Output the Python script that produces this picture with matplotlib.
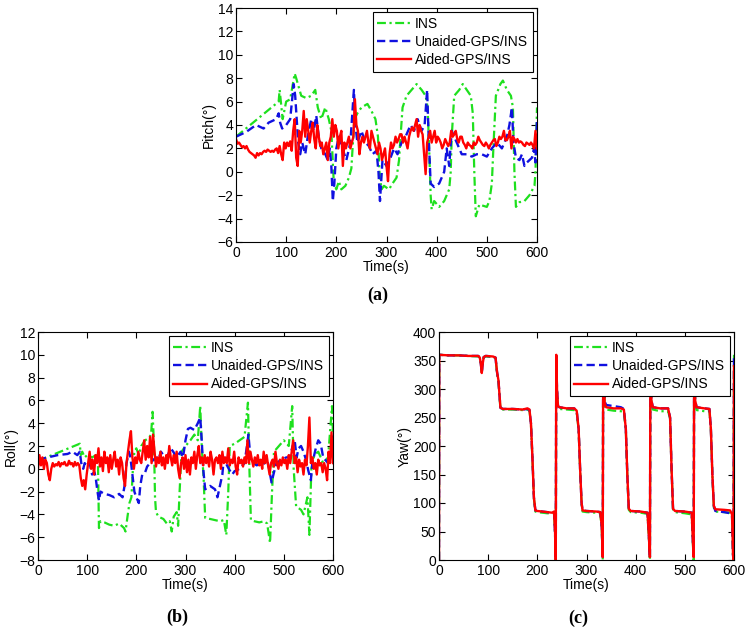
import numpy as np
import matplotlib
matplotlib.use('Agg')
import matplotlib.pyplot as plt

plt.rcParams['font.family'] = ['Liberation Sans', 'DejaVu Sans']

# ---- pitch data ----
t_ins_p = [0, 85, 87, 93, 100, 108, 117, 120, 130, 140, 150, 158, 163, 170, 178, 185, 190, 195, 200, 205,
           210, 218, 225, 230, 233, 236, 242, 250, 262, 270, 278, 283, 286, 290, 295, 305, 312, 320, 325, 328,
           332, 340, 350, 360, 370, 378, 382, 385, 388, 390, 395, 405, 415, 425, 428, 430, 435, 445, 452, 460,
           468, 472, 475, 478, 485, 500, 505, 510, 513, 518, 527, 532, 540, 548, 552, 555, 558, 565, 575, 585,
           595, 597, 600]
ins_p = [3.0, 6.0, 7.0, 4.5, 6.0, 6.2, 8.4, 8.0, 6.5, 6.3, 6.5, 7.0, 5.5, 4.5, 5.5, 4.5, 3.5, -1.0, -1.5, -0.8,
         -1.5, -1.2, -0.5, 0.3, 2.5, 4.5, 5.0, 5.5, 5.8, 5.2, 4.5, 3.0, 0.0, -1.5, -1.2, -1.5, -1.0, -0.5, 1.0, 3.0,
         5.5, 6.5, 7.0, 7.5, 7.0, 6.5, 5.5, 2.0, -2.0, -3.2, -2.5, -3.0, -2.5, -1.5, 0.0, 3.0, 6.5, 7.0, 7.5, 7.0,
         6.5, 5.0, 0.0, -3.8, -2.8, -3.0, -2.5, -1.0, 2.0, 6.5, 7.5, 7.8, 7.0, 6.5, 5.5, 0.0, -3.0, -2.6, -2.5, -2.0,
         -1.2, 0.0, 5.5]

t_un_p = [0, 20, 40, 55, 65, 80, 85, 88, 92, 100, 108, 115, 118, 121, 124, 128, 132, 138, 143, 150,
          155, 160, 165, 170, 178, 183, 187, 190, 193, 196, 200, 205, 212, 220, 228, 235, 238, 242, 250, 258,
          265, 272, 280, 284, 287, 292, 300, 308, 315, 322, 330, 338, 348, 355, 362, 370, 376, 381, 384, 388,
          395, 405, 410, 415, 420, 425, 430, 440, 450, 460, 470, 480, 490, 500, 510, 520, 530, 540, 545, 550,
          553, 558, 565, 570, 575, 580, 590, 594, 597, 600]
un_p = [3.0, 3.4, 4.0, 3.7, 4.2, 4.5, 5.0, 4.2, 3.7, 4.0, 4.5, 7.5, 6.5, 4.5, 2.5, 1.5, 2.5, 1.5, 3.0, 4.5,
        3.5, 4.8, 3.0, 2.0, 1.5, 1.0, 2.0, 0.5, -2.5, -1.0, 2.0, 3.0, 2.0, 1.0, 2.5, 7.0, 4.0, 2.5, 3.5, 2.5,
        2.2, 1.5, 1.8, 0.0, -2.5, 1.0, 0.5, 1.2, 2.0, 1.5, 2.5, 3.0, 4.0, 3.5, 4.5, 3.5, 4.0, 7.0, 3.0, -1.0,
        -1.3, -1.0, -0.5, 0.0, 2.0, 0.5, 3.5, 2.5, 1.5, 1.5, 1.3, 1.5, 1.5, 1.3, 2.0, 2.5, 2.0, 3.0, 4.0, 5.5,
        2.5, 1.2, 1.0, 1.5, 0.5, 0.8, 1.2, 2.0, 0.8, 4.5]

t_grid = np.arange(0, 601, 3)  # sample times of the aided solution
aid_p = [2.8, 2.4, 2.5, 2.3, 2.1, 2.2, 2.0, 2.2, 1.9, 1.7,
         1.6, 1.5, 1.4, 1.2, 1.6, 1.4, 1.6, 1.5, 1.7, 1.8,
         1.7, 1.9, 1.8, 1.7, 1.8, 1.7, 1.9, 2.0, 1.6, 2.2,
         1.5, 1.0, 2.5, 2.0, 2.5, 2.2, 2.6, 1.8, 3.5, 4.5,
         1.2, 0.5, 3.5, 2.5, 3.5, 5.2, 3.0, 4.5, 3.5, 2.5,
         3.5, 4.2, 2.8, 2.0, 4.0, 3.0, 2.2, 2.5, 1.5, 2.0,
         2.5, 1.0, 2.5, 3.0, 4.5, 3.0, 4.0, 3.5, 2.0, 3.0,
         3.5, 0.5, 2.5, 2.0, 2.5, 3.0, 2.0, 2.5, 3.0, 6.2,
         4.0, 3.5, 1.5, 2.5, 3.0, 2.5, 3.0, 3.5, 2.5, 2.0,
         3.5, 3.0, 2.5, 2.0, 1.5, 2.5, 2.0, 1.0, 1.5, 2.0,
         0.5, -0.8, 1.5, 2.5, 2.0, 2.3, 3.0, 2.5, 2.8, 3.2,
         3.2, 2.5, 3.0, 2.5, 2.0, 3.0, 3.5, 3.8, 3.5, 4.0,
         4.5, 3.0, 4.0, 3.5, 3.2, 1.5, -0.2, 2.5, 3.0, 3.5,
         2.5, 3.0, 3.5, 2.5, 3.0, 2.8, 2.5, 2.0, 2.3, 2.8,
         2.5, 2.2, 2.5, 3.5, 3.0, 3.2, 3.5, 2.8, 2.5, 3.0,
         3.0, 2.5, 2.3, 2.0, 2.5, 2.3, 2.2, 2.0, 2.5, 2.3,
         2.5, 3.0, 2.7, 2.5, 2.3, 2.2, 2.5, 2.3, 2.0, 2.3,
         2.5, 2.7, 2.8, 2.2, 2.5, 3.0, 2.8, 3.0, 3.5, 2.7,
         2.7, 3.0, 3.5, 2.0, 3.0, 2.8, 2.5, 2.8, 2.5, 2.6,
         2.5, 2.3, 2.2, 2.5, 2.4, 2.3, 2.5, 2.3, 2.0, 3.5,
         2.0]

# ---- roll data ----
t_ins_r = [0, 85, 87, 90, 95, 100, 110, 118, 122, 124, 127, 135, 145, 155, 165, 175, 178, 182, 186, 190,
           193, 196, 200, 205, 210, 218, 225, 230, 233, 236, 238, 240, 245, 255, 262, 268, 272, 276, 282, 285,
           288, 292, 300, 310, 318, 325, 330, 333, 337, 340, 350, 360, 370, 378, 383, 387, 390, 400, 410, 420,
           427, 430, 433, 440, 450, 460, 466, 472, 476, 480, 490, 500, 510, 517, 520, 525, 535, 540, 548, 552,
           556, 562, 570, 580, 590, 598, 600]
ins_r = [0.7, 2.2, 1.2, 1.5, 1.0, 1.2, 1.0, 1.2, 0.5, -5.2, -4.6, -4.7, -4.9, -5.0, -4.8, -5.2, -5.5, -4.2, -3.0, -2.5,
         0.0, 1.5, 1.8, 1.2, 2.0, 2.5, 2.7, 3.0, 5.0, 2.0, -2.5, -3.8, -4.2, -4.4, -4.8, -4.6, -5.5, -4.2, -3.8, -5.0,
         -2.0, 1.5, 2.0, 2.5, 3.0, 2.5, 5.5, 2.0, -1.0, -4.3, -4.4, -4.5, -4.6, -4.5, -5.8, -2.0, 2.0, 2.2, 2.5, 2.8,
         5.8, 0.0, -4.5, -4.6, -4.7, -4.6, -4.8, -6.5, -2.0, 1.5, 2.0, 2.5, 2.0, 5.5, 0.0, -3.3, -3.6, -4.0, -2.5, -5.8,
         0.0, 1.2, 1.5, 0.5, 1.0, 5.5, 3.0]

t_un_r = [0, 20, 40, 60, 70, 80, 85, 88, 92, 95, 100, 105, 110, 115, 118, 121, 124, 127, 135, 145,
          155, 165, 172, 176, 180, 185, 188, 192, 196, 200, 205, 208, 212, 218, 222, 228, 235, 240, 245, 250,
          255, 262, 270, 275, 282, 290, 295, 300, 305, 310, 318, 325, 330, 333, 336, 340, 350, 360, 365, 370,
          375, 378, 382, 388, 395, 400, 410, 420, 425, 428, 432, 438, 445, 450, 458, 465, 470, 475, 480, 485,
          495, 505, 512, 518, 522, 526, 530, 535, 540, 545, 550, 555, 558, 565, 570, 575, 580, 590, 596, 600]
un_r = [0.8, 1.0, 1.2, 1.3, 1.5, 1.2, 1.5, 0.5, 0.0, 0.5, 0.2, 0.5, -0.5, -0.3, -1.0, -2.0, -2.8, -2.0, -2.2, -2.3,
        -2.5, -2.2, -2.5, -1.5, 0.5, 1.5, 1.0, -0.5, -2.0, -2.5, -3.0, -1.5, -0.5, -0.3, 0.2, 0.5, 0.8, 1.0, 0.8, 1.5,
        1.2, 1.0, 1.8, 1.5, 1.0, 1.5, 1.0, 2.5, 3.5, 3.6, 3.4, 4.0, 4.5, 2.5, 0.0, -1.8, -1.5, -1.8, -2.5, -1.5,
        -0.5, 1.0, 0.5, 0.0, -0.5, -0.2, 0.0, 0.5, 2.0, 3.0, 1.0, 0.5, 0.3, 0.5, 0.3, 1.0, 0.0, -1.2, -0.3, 0.5,
        0.8, 1.0, 1.0, 2.0, 2.5, 1.0, 1.8, 2.0, 1.5, 0.8, -0.2, -1.0, 0.5, 1.8, 2.5, 2.2, 1.0, 0.5, 1.0, 3.0]

aid_r = [0.0, 1.2, 0.3, 1.0, 0.0, 0.8, 0.5, -0.5, -1.0, 0.0,
         0.5, 0.2, 0.4, 0.3, 0.6, 0.2, 0.5, 0.4, 0.6, 0.3,
         0.3, 0.7, 0.4, 0.5, 0.2, 0.6, 0.3, 0.5, 0.3, -0.8,
         -1.5, -1.0, -1.8, -0.5, 0.5, 1.5, 0.0, 0.8, -0.5, 1.2,
         0.5, 1.8, 0.2, 1.0, -0.2, 1.5, 0.5, 1.0, -0.3, 1.2,
         0.0, 0.8, 1.5, 0.2, 0.8, -0.5, 1.0, 0.5, -0.8, -1.5,
         0.5, 1.5, 2.5, 3.3, 1.0, 0.0, 1.0, 0.5, 1.5, 0.8,
         0.5, 1.5, 2.5, 0.8, 2.0, 1.0, 2.8, 0.5, 3.0, 1.5,
         0.2, 1.0, 0.5, 1.5, 0.3, 1.0, 0.0, 1.2, 0.5, 2.0,
         1.0, 0.3, 1.2, 0.5, 1.5, 0.0, -0.8, 0.5, 1.0, 0.0,
         1.2, -0.3, 0.8, -0.5, 1.0, 0.5, 1.5, 0.0, 1.2, 2.0,
         0.5, 1.0, 0.3, 1.2, 0.5, 1.0, 0.2, 1.5, 0.8, -0.5,
         0.8, 1.0, 0.5, 1.2, 0.0, 1.5, 0.5, 1.0, 0.5, 1.8,
         0.3, 0.8, 0.5, 1.5, 0.2, -0.5, 1.0, 0.5, 0.8, 0.2,
         1.0, 0.5, 2.5, 0.5, 1.5, 0.8, 0.2, 1.0, 0.5, 1.2,
         0.3, 0.8, 0.0, 1.5, 0.5, 1.2, 0.3, -0.5, 0.5, 0.8,
         0.2, 1.5, 0.5, 0.0, 0.8, 0.3, 1.0, 0.5, 0.8, 0.0,
         1.2, 0.5, 1.5, 2.5, 0.5, 1.0, -0.3, 0.8, 0.2, 0.5,
         -0.5, 0.8, 0.3, 2.0, 4.5, 0.5, 1.0, 0.0, 0.5, -0.5,
         0.8, 0.3, 0.5, -0.3, 0.5, 0.0, -1.0, 1.5, 0.5, 3.2,
         0.5]

# ---- yaw data ----
t_yaw = [0, 0.5, 20, 40, 60, 80, 83, 85, 87, 89, 91, 95, 110, 115, 118, 121, 123, 125, 130, 150,
         170, 180, 184, 187, 190, 193, 196, 200, 220, 230, 234, 236, 237.5, 238.5, 240, 242, 245, 260, 275, 280,
         284, 287, 290, 292, 300, 320, 328, 331, 333, 334, 337, 340, 355, 370, 376, 380, 383, 386, 390, 410,
         424, 427, 429, 430, 432, 435, 450, 466, 470, 473, 476, 480, 500, 514, 516, 518, 519, 521, 524, 540,
         550, 553, 556, 559, 562, 580, 592, 596, 598, 599, 600]
ins_y = [0, 360, 359, 359, 358, 357, 354, 344, 330, 346, 356, 357, 356, 354, 328, 312, 288, 265, 264, 264,
         263, 264, 262, 238, 178, 108, 85, 84, 82, 82, 83, 45, 0, 360, 298, 268, 265, 264, 263, 260,
         228, 158, 98, 85, 84, 83, 82, 55, 0, 360, 270, 264, 262, 261, 260, 228, 148, 88, 84, 83,
         81, 35, 0, 360, 275, 264, 261, 261, 248, 158, 88, 84, 82, 80, 35, 0, 360, 275, 263, 261,
         262, 228, 148, 92, 85, 84, 83, 78, 5, 0, 360]
un_y = [0, 360, 359, 359, 358, 358, 355, 345, 329, 345, 356, 358, 357, 355, 330, 314, 290, 267, 265, 265,
        264, 265, 263, 240, 180, 110, 87, 86, 84, 83, 84, 48, 0, 358, 300, 270, 268, 266, 266, 262,
        230, 160, 100, 87, 86, 85, 84, 58, 3, 360, 278, 272, 270, 268, 265, 230, 150, 90, 86, 85,
        83, 40, 3, 360, 280, 268, 266, 266, 250, 160, 90, 86, 85, 83, 40, 3, 360, 280, 268, 266,
        265, 230, 150, 95, 86, 84, 82, 78, 8, 0, 360]
aid_y = [0, 360, 359, 359, 358, 358, 355, 345, 328, 345, 356, 358, 357, 355, 330, 315, 290, 267, 265, 265,
         264, 266, 264, 240, 180, 110, 87, 86, 84, 83, 85, 50, 0, 360, 300, 270, 268, 266, 266, 262,
         230, 160, 100, 87, 86, 85, 84, 60, 5, 360, 275, 268, 266, 266, 264, 230, 150, 90, 86, 85,
         83, 40, 5, 360, 280, 268, 266, 266, 250, 160, 90, 86, 85, 83, 40, 5, 360, 280, 268, 266,
         265, 230, 150, 95, 89, 88, 87, 80, 10, 0, 340]

labels = ['INS', 'Unaided-GPS/INS', 'Aided-GPS/INS']
green = '#1ee01e'
blue = '#1010e0'
red = '#ff0000'

W, H = 747, 628
fig = plt.figure(figsize=(W / 100, H / 100), dpi=100)


def px_axes(x0, y0, x1, y1):
    return fig.add_axes([x0 / W, 1 - y1 / H, (x1 - x0) / W, (y1 - y0) / H])


def draw(ax, series, ylim, yticks, ylabel):
    (t1, v1), (t2, v2), (t3, v3) = series
    ax.plot(t1, v1, color=green, lw=1.6, ls=(0, (4, 1.6, 1, 1.6)), label=labels[0])
    ax.plot(t2, v2, color=blue, lw=1.7, ls=(0, (3.5, 1.8)), label=labels[1])
    ax.plot(t3, v3, color=red, lw=1.7, label=labels[2])
    ax.set_xlim(0, 600)
    ax.set_ylim(*ylim)
    ax.set_xticks(np.arange(0, 601, 100))
    ax.set_yticks(yticks)
    ax.tick_params(direction='in', top=True, right=True, labelsize=10, length=4)
    ax.tick_params(axis='x', pad=3)
    ax.tick_params(axis='y', pad=2)
    ax.set_xlabel('Time(s)', fontsize=10, labelpad=0)
    ax.set_ylabel(ylabel, fontsize=10, labelpad=1)
    leg = ax.legend(loc='upper right', fontsize=10, fancybox=False, framealpha=1,
                    edgecolor='black', borderaxespad=0.3, handlelength=2.4,
                    labelspacing=0.3, borderpad=0.35, handletextpad=0.3)
    leg.get_frame().set_linewidth(0.8)


ax_a = px_axes(236, 8, 537, 242)
draw(ax_a, [(t_ins_p, ins_p), (t_un_p, un_p), (t_grid, aid_p)], (-6, 14), np.arange(-6, 15, 2), 'Pitch(°)')

ax_b = px_axes(38, 332, 333, 560)
draw(ax_b, [(t_ins_r, ins_r), (t_un_r, un_r), (t_grid, aid_r)], (-8, 12), np.arange(-8, 13, 2), 'Roll(°)')

ax_c = px_axes(439, 332, 734, 560)
draw(ax_c, [(t_yaw, ins_y), (t_yaw, un_y), (t_yaw, aid_y)], (0, 400), np.arange(0, 401, 50), 'Yaw(°)')

for x, y, s in [(378, 295, '(a)'), (177, 617, '(b)'), (578, 618, '(c)')]:
    fig.text(x / W, 1 - y / H, s, ha='center', va='center', fontsize=13,
             fontweight='bold', family='Liberation Serif')

fig.savefig('out.png', dpi=100)
